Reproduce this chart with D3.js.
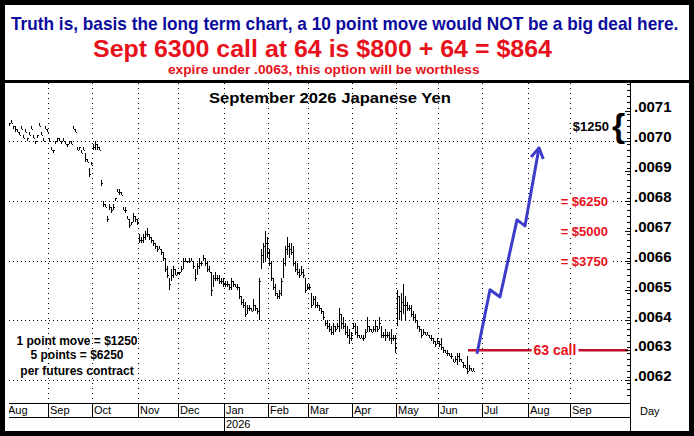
<!DOCTYPE html>
<html>
<head>
<meta charset="utf-8">
<script src="https://cdn.jsdelivr.net/npm/d3@7"></script>
<style>
html, body { margin: 0; padding: 0; background: #fff; }
svg { display: block; font-family: "Liberation Sans", Arial, sans-serif; }
</style>
</head>
<body>
<div id="chart"></div>
<script>
// prices in points of .0001 (70.5 = .00705), one bar per trading day from Aug 1 2025
let hi = [
  70.5,70.6,70.7,70.5,70.5,70.4,70.3,70.5,70.2,70.4,70.1,70.3,70.5,70.2,70.0,70.2,70.6,70.3,70.1,70.5,70.4, // aug
  70.1,69.8,69.7,70.0,70.1,70.1,70.0,70.1,70.0,69.9,70.0,70.0,70.5,70.4,69.8,69.8,69.7,69.8,69.6,69.4,69.1,69.3, // sep
  69.9,70.0,69.9,69.8,68.7,68.0,67.9,67.5,67.9,67.8,67.9,68.1,68.4,68.4,68.3,67.8,67.8,67.5,67.4,67.3,67.6,67.5,67.4, // oct
  66.9,66.8,66.9,67.0,67.1,66.9,66.8,66.7,66.6,66.5,66.5,66.4,66.3,66.1,65.8,65.4,65.7,65.8,65.7,65.6, // nov
  65.6,65.8,66.1,66.1,66.0,66.1,66.1,66.0,65.7,65.9,66.1,66.0,66.2,66.1,66.0,65.8,65.6,65.5,65.6,65.5,65.5,65.4,65.4, // dec
  65.3,65.3,65.2,65.4,65.3,65.2,65.2,65.1,64.8,64.7,64.6,64.5,64.5,64.4,64.7,64.5,64.4,65.4,66.4,66.6,67.0,66.8, // jan
  66.4,66.0,65.4,65.2,64.9,65.0,65.4,66.1,66.5,66.8,66.6,66.6,66.5,66.0,65.9,65.7,65.8,65.7,65.4,65.2, // feb
  65.2,64.9,64.8,64.8,64.6,64.5,64.4,64.3,64.0,64.0,63.9,63.8,63.9,63.8,63.9,64.4,64.2,64.1,63.9,63.8,63.7,63.6, // mar
  63.9,63.9,63.8,63.5,63.5,63.5,63.7,64.1,63.8,63.7,63.8,64.0,63.8,64.1,63.8,63.6,63.7,63.6,63.6,63.7,63.5,63.5, // apr
  65.0,64.8,64.9,65.2,64.8,64.6,64.5,64.5,64.3,64.2,64.0,63.8,63.7,63.7,63.6,63.6,63.5,63.5,63.4,63.3,63.4, // may
  63.3,63.4,63.1,63.0,63.0,62.9,62.9,62.7,62.8,62.9,62.9,62.7,62.6,62.5,62.8,62.5,62.4,62.4 // jun
];
let lo = [
  70.4,70.5,70.6,70.4,70.3,70.3,70.2,70.4,70.1,70.3,70.0,70.2,70.4,70.1,69.9,70.1,70.5,70.2,70.0,70.4,70.3,
  70.0,69.7,69.6,69.9,70.0,70.0,69.9,70.0,69.9,69.8,69.9,69.9,70.4,70.3,69.7,69.7,69.6,69.7,69.3,69.3,68.8,69.2,
  69.7,69.7,69.7,69.7,68.5,67.8,67.8,67.3,67.7,67.6,67.7,68.0,68.3,68.2,68.2,67.7,67.6,67.4,67.1,67.2,67.3,67.3,67.2,
  66.6,66.6,66.6,66.7,66.8,66.7,66.6,66.5,66.4,66.3,66.4,66.2,66.0,65.6,65.4,65.0,65.3,65.4,65.5,65.5,
  65.5,65.6,65.7,66.0,65.9,65.9,66.0,65.7,65.3,65.5,65.7,65.8,66.0,65.8,65.6,65.6,64.8,65.1,65.3,65.3,65.2,65.2,65.1,
  65.1,65.1,65.0,65.0,65.1,65.1,65.0,64.7,64.5,64.4,64.1,64.2,64.3,64.3,64.3,64.3,64.2,64.0,65.7,65.9,66.0,66.1,
  65.8,65.3,65.0,64.8,64.7,64.7,64.8,65.4,65.8,66.2,66.1,66.2,65.8,65.6,65.5,65.4,65.5,65.4,64.9,65.0,
  65.0,64.4,64.5,64.4,64.4,64.3,64.2,64.0,63.8,63.7,63.6,63.5,63.5,63.6,63.7,63.6,63.7,63.7,63.5,63.4,63.2,63.3,
  63.7,63.5,63.4,63.4,63.4,63.3,63.4,63.6,63.6,63.6,63.6,63.6,63.6,63.7,63.4,63.4,63.3,63.4,63.3,63.2,63.3,62.9,
  63.8,64.0,64.0,64.2,64.0,64.3,64.3,64.1,64.0,63.9,63.7,63.6,63.4,63.5,63.5,63.5,63.4,63.3,63.2,63.1,63.2,
  63.1,63.0,62.9,62.9,62.8,62.8,62.7,62.6,62.6,62.5,62.6,62.6,62.4,62.4,62.2,62.3,62.3,62.3
];
let cl = [
  70.4,70.6,70.6,70.5,70.4,70.3,70.2,70.4,70.1,70.3,70.1,70.2,70.4,70.1,70.0,70.2,70.5,70.2,70.0,70.4,70.3,
  70.0,69.7,69.7,70.0,70.1,70.0,70.0,70.0,69.9,69.9,70.0,69.9,70.4,70.3,69.7,69.8,69.6,69.7,69.4,69.3,68.9,69.2,
  69.8,69.9,69.8,69.7,68.6,67.9,67.8,67.4,67.8,67.7,67.8,68.1,68.3,68.3,68.2,67.7,67.7,67.4,67.2,67.3,67.5,67.4,67.3,
  66.7,66.7,66.8,66.9,66.9,66.8,66.7,66.6,66.5,66.4,66.4,66.3,66.1,65.7,65.5,65.2,65.5,65.7,65.5,65.6,
  65.6,65.7,66.0,66.0,66.0,66.0,66.0,65.8,65.4,65.8,65.9,65.9,66.1,65.9,65.7,65.6,65.0,65.4,65.4,65.4,65.3,65.3,65.2,
  65.2,65.2,65.1,65.3,65.2,65.1,65.1,64.8,64.6,64.5,64.2,64.4,64.4,64.3,64.5,64.4,64.3,65.3,66.2,66.5,66.6,66.3,
  65.9,65.4,65.1,64.9,64.8,64.9,65.3,65.9,66.4,66.5,66.4,66.3,65.9,65.7,65.6,65.5,65.6,65.5,65.0,65.1,
  65.1,64.5,64.7,64.5,64.5,64.4,64.3,64.1,63.9,63.8,63.7,63.6,63.8,63.7,63.8,64.2,63.9,63.8,63.6,63.5,63.4,63.5,
  63.8,63.6,63.5,63.4,63.4,63.4,63.6,63.8,63.7,63.6,63.7,63.8,63.7,63.9,63.5,63.5,63.5,63.5,63.4,63.4,63.4,63.1,
  64.8,64.3,64.6,64.5,64.5,64.4,64.4,64.2,64.1,64.0,63.8,63.7,63.5,63.6,63.5,63.5,63.4,63.4,63.3,63.2,63.3,
  63.2,63.1,63.0,62.9,62.9,62.8,62.8,62.6,62.7,62.8,62.7,62.6,62.5,62.4,62.3,62.4,62.3,62.3
];

let yTicks = [62, 63, 64, 65, 66, 67, 68, 69, 70, 71],
    yGrid = [62, 64, 66, 68, 70],
    dollarLevels = [[68, "= $6250"], [67, "= $5000"], [66, "= $3750"]],
    strike = 63,
    // projected move, [trading day index, price]
    arrowPts = [[235, 62.88], [241.5, 65.02], [246.5, 64.78], [255, 67.36], [259, 67.16], [266, 69.77]];

let W = 694, H = 436,
    plot = {left: 9, right: 630, top: 83, bottom: 403},
    red = "#e8111b";

// trading days (weekdays) Aug 2025 .. early Oct 2026
let days = d3.timeDay.range(new Date(2025, 7, 1), new Date(2026, 9, 10)).filter(d => d.getDay() % 6 != 0);

let x = d3.scaleLinear().domain([0, days.length - 1]).range([7, 627]);
let y = d3.scaleLinear().domain([62, 70]).range([380, 141]);

let monthStarts = days.map((d, i) => i)
  .filter(i => i == 0 || days[i].getMonth() != days[i - 1].getMonth())
  .filter(i => x(i) < plot.right - 30);

const svg = d3.select("#chart").append("svg").attr("width", W).attr("height", H);
svg.append("rect").attr("width", W).attr("height", H).attr("fill", "#fff");

svg.append("defs").append("clipPath").attr("id", "clip")
  .append("rect").attr("x", plot.left).attr("y", plot.top)
  .attr("width", plot.right - plot.left).attr("height", H - plot.top);

// squeezed bold text (the original uses a narrow face)
function fitText(g, tx, ty, size, fill, width, txt) {
  let t = g.append("text").attr("font-size", size).attr("font-weight", "bold").attr("fill", fill).text(txt);
  let sx = width / t.node().getComputedTextLength();
  t.attr("transform", `translate(${tx},${ty}) scale(${sx},1)`);
  return t;
}

// header
let head = svg.append("g");
fitText(head, 11, 30, 18, "#0b0b9e", 668, "Truth is, basis the long term chart, a 10 point move would NOT be a big deal here.");
fitText(head, 93, 57, 24, red, 459, "Sept 6300 call at 64 is $800 + 64 = $864");
fitText(head, 168, 74, 12, red, 312, "expire under .0063, this option will be worthless");
svg.append("rect").attr("x", 0).attr("y", 80).attr("width", W).attr("height", 3).attr("fill", "#000");

// grid
let grid = svg.append("g").attr("clip-path", "url(#clip)").attr("stroke", "#000").attr("shape-rendering", "crispEdges");
grid.selectAll("line.h").data(yGrid).join("line").attr("class", "h")
  .attr("x1", plot.left).attr("x2", plot.right)
  .attr("y1", d => Math.round(y(d)) + 0.5).attr("y2", d => Math.round(y(d)) + 0.5)
  .attr("stroke-dasharray", "1,3");
grid.selectAll("line.v").data(monthStarts).join("line").attr("class", "v")
  .attr("x1", i => Math.round(x(i)) - 0.5).attr("x2", i => Math.round(x(i)) - 0.5)
  .attr("y1", plot.top).attr("y2", plot.bottom)
  .attr("stroke-dasharray", "1,4");

// price bars
let bars = svg.append("g").attr("clip-path", "url(#clip)").attr("stroke", "#000").attr("shape-rendering", "crispEdges");
bars.selectAll("line.bar").data(hi).join("line").attr("class", "bar")
  .attr("x1", (d, i) => Math.round(x(i)) + 0.5).attr("x2", (d, i) => Math.round(x(i)) + 0.5)
  .attr("y1", d => Math.round(y(d))).attr("y2", (d, i) => Math.max(Math.round(y(lo[i])), Math.round(y(d)) + 1));
bars.selectAll("line.cl").data(cl).join("line").attr("class", "cl")
  .attr("x1", (d, i) => Math.round(x(i)) + 1).attr("x2", (d, i) => Math.round(x(i)) + 2)
  .attr("y1", d => Math.round(y(d)) + 0.5).attr("y2", d => Math.round(y(d)) + 0.5);

// title
fitText(svg, 209, 103, 15, "#000", 242, "September 2026 Japanese Yen");

// white-backed label helper
function boxed(g, tx, ty, txt, opts) {
  let t = g.append("text").attr("x", tx).attr("y", ty).attr("font-size", opts.size)
    .attr("font-weight", "bold").attr("fill", opts.fill).attr("text-anchor", opts.anchor).text(txt);
  let b = t.node().getBBox();
  g.insert("rect", () => t.node()).attr("x", b.x - 2).attr("y", b.y + 2).attr("width", b.width + 4)
    .attr("height", b.height - 4).attr("fill", "#fff");
  return t;
}

let notes = svg.append("g");
dollarLevels.forEach(([v, s]) => boxed(notes, plot.right - 22, y(v) + 5, s, {size: 13, fill: red, anchor: "end"}));

// $1250 per point brace
notes.append("text").attr("x", 609).attr("y", 131).attr("font-size", 13).attr("font-weight", "bold")
  .attr("text-anchor", "end").text("$1250");
notes.append("text").attr("x", 612).attr("y", y(70.15)).attr("font-size", 34).attr("font-weight", "bold").text("{");

// strike line
notes.append("line").attr("x1", x(230.5)).attr("x2", plot.right - 2)
  .attr("y1", y(strike)).attr("y2", y(strike)).attr("stroke", "#c0102a").attr("stroke-width", 2.5);
boxed(notes, x(274), y(strike) + 5, "63 call", {size: 14, fill: red, anchor: "middle"});

// projected move arrow
let line = d3.line().x(d => x(d[0])).y(d => y(d[1]));
notes.append("path").attr("d", line(arrowPts)).attr("fill", "none")
  .attr("stroke", "#3c3cc8").attr("stroke-width", 3).attr("stroke-linejoin", "round");
let tip = arrowPts[arrowPts.length - 1], prev = arrowPts[arrowPts.length - 2],
    tx = x(tip[0]), ty = y(tip[1]),
    ang = Math.atan2(ty - y(prev[1]), tx - x(prev[0]));
notes.append("path")
  .attr("d", [ang - 2.6, ang + 2.6].map((a, k) => (k ? "L" : "M") + (tx + 12 * Math.cos(a)) + "," + (ty + 12 * Math.sin(a)) + (k ? "" : "L" + tx + "," + ty)).join(""))
  .attr("fill", "none").attr("stroke", "#3c3cc8").attr("stroke-width", 3).attr("stroke-linejoin", "round");

// point value note
let pv = svg.append("g").attr("font-size", 12).attr("font-weight", "bold").attr("text-anchor", "middle");
[["1 point move = $1250", 345], ["5 points = $6250", 359], ["per futures contract", 375]]
  .forEach(([s, ty]) => pv.append("text").attr("x", 77).attr("y", ty).text(s));

// right price axis
let ax = svg.append("g").attr("shape-rendering", "crispEdges");
ax.append("line").attr("x1", plot.right + 0.5).attr("x2", plot.right + 0.5).attr("y1", plot.top).attr("y2", H - 5).attr("stroke", "#000");
ax.append("g").attr("transform", `translate(${plot.right},0)`)
  .call(d3.axisRight(y).tickValues(d3.range(615, 720, 2).map(v => v / 10)).tickSize(-3).tickFormat(""))
  .call(g => g.select(".domain").remove());
ax.append("g").attr("transform", `translate(${plot.right},0)`)
  .call(d3.axisRight(y).tickValues(yTicks).tickSize(-5).tickPadding(4).tickFormat(v => ".00" + v))
  .call(g => g.select(".domain").remove())
  .call(g => g.selectAll("text").attr("dy", "0.05em").attr("font-size", 15).attr("font-weight", "bold")
    .attr("font-family", "Liberation Sans, Arial, sans-serif").attr("fill", "#000"));

// month / year band
let band = svg.append("g").attr("shape-rendering", "crispEdges").attr("stroke", "#000");
band.append("line").attr("x1", plot.left).attr("x2", plot.right).attr("y1", 403.5).attr("y2", 403.5);
band.append("line").attr("x1", plot.left).attr("x2", plot.right).attr("y1", 417.5).attr("y2", 417.5);
let mb = svg.append("g").attr("clip-path", "url(#clip)");
mb.selectAll("line").data(monthStarts).join("line")
  .attr("x1", i => Math.round(x(i)) - 0.5).attr("x2", i => Math.round(x(i)) - 0.5)
  .attr("y1", 403).attr("y2", 417).attr("stroke", "#000").attr("shape-rendering", "crispEdges");
mb.selectAll("text").data(monthStarts).join("text")
  .attr("x", i => Math.round(x(i)) + 1).attr("y", 414).attr("font-size", 11)
  .text(i => d3.timeFormat("%b")(days[i]));
let jan = monthStarts.find(i => days[i].getMonth() == 0);
mb.append("line").attr("x1", Math.round(x(jan)) - 0.5).attr("x2", Math.round(x(jan)) - 0.5)
  .attr("y1", 417).attr("y2", 431).attr("stroke", "#000").attr("shape-rendering", "crispEdges");
mb.append("text").attr("x", Math.round(x(jan)) + 1).attr("y", 428).attr("font-size", 11).text(d3.timeFormat("%Y")(days[jan]));
svg.append("text").attr("x", 640).attr("y", 415).attr("font-size", 11).text("Day");

// outer frame
svg.append("rect").attr("x", 2.5).attr("y", 2.5).attr("width", W - 5).attr("height", H - 5)
  .attr("fill", "none").attr("stroke", "#000").attr("stroke-width", 5);
</script>
</body>
</html>
